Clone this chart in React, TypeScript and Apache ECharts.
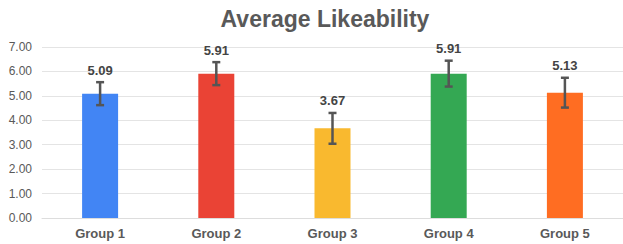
import React, { useEffect, useRef } from "react";
import * as echarts from "echarts";

const categories = ["Group 1", "Group 2", "Group 3", "Group 4", "Group 5"];
const means = [5.09, 5.91, 3.67, 5.91, 5.13];
const errors = [0.47, 0.47, 0.63, 0.53, 0.61];
const colors = ["#4285F4", "#EA4335", "#F9B92F", "#34A853", "#FF6D22"];
const yTicks = { min: 0, max: 7, interval: 1 };

const FONT = "'Liberation Sans', Arial, sans-serif";

export default function App() {
  const ref = useRef<HTMLDivElement>(null);
  useEffect(() => {
    if (!ref.current) return;
    const chart = echarts.init(ref.current, null, { renderer: "svg" });
    chart.setOption({
      animation: false,
      backgroundColor: "#ffffff",
      title: {
        text: "Average Likeability",
        left: 320,
        textAlign: "center",
        top: 2,
        textStyle: { fontFamily: FONT, fontSize: 23, fontWeight: "bold", color: "#595959" },
      },
      grid: { left: 42, top: 47, width: 585, height: 171 },
      xAxis: {
        type: "category",
        data: categories,
        axisLine: { show: true, lineStyle: { color: "#dddddd", width: 1 } },
        axisTick: { show: false },
        axisLabel: {
          fontFamily: FONT,
          fontSize: 13,
          fontWeight: "bold",
          color: "#595959",
          margin: 9,
        },
      },
      yAxis: {
        type: "value",
        min: yTicks.min,
        max: yTicks.max,
        interval: yTicks.interval,
        axisLine: { show: false },
        axisTick: { show: false },
        splitLine: { lineStyle: { color: "#e4e4e4", width: 1 } },
        axisLabel: {
          fontFamily: FONT,
          fontSize: 12,
          color: "#595959",
          margin: 10,
          formatter: (v: number) => v.toFixed(2),
        },
      },
      series: [
        {
          type: "bar",
          barWidth: 36,
          data: means.map((v, i) => ({ value: v, itemStyle: { color: colors[i] } })),
        },
        {
          type: "custom",
          data: means.map((v, i) => [i, v, errors[i]]),
          z: 10,
          renderItem: (params: any, api: any) => {
            const x = api.value(0);
            const m = api.value(1);
            const e = api.value(2);
            const top = api.coord([x, m + e]);
            const bot = api.coord([x, m - e]);
            const cx = top[0];
            const style = { stroke: "#555555", lineWidth: 2.5 };
            return {
              type: "group",
              children: [
                { type: "line", shape: { x1: cx, y1: top[1], x2: cx, y2: bot[1] }, style },
                { type: "line", shape: { x1: cx - 4, y1: top[1], x2: cx + 4, y2: top[1] }, style },
                { type: "line", shape: { x1: cx - 4, y1: bot[1], x2: cx + 4, y2: bot[1] }, style },
                {
                  type: "text",
                  x: cx,
                  y: top[1] - 12,
                  style: {
                    text: m.toFixed(2),
                    fontFamily: FONT,
                    fontSize: 13,
                    fontWeight: "bold",
                    fill: "#444444",
                    align: "center",
                    verticalAlign: "middle",
                  },
                },
              ],
            };
          },
        },
      ],
    });
    return () => chart.dispose();
  }, []);
  return (
    <div
      ref={ref}
      style={{ position: "fixed", left: 0, top: 0, width: 623, height: 244 }}
    />
  );
}
